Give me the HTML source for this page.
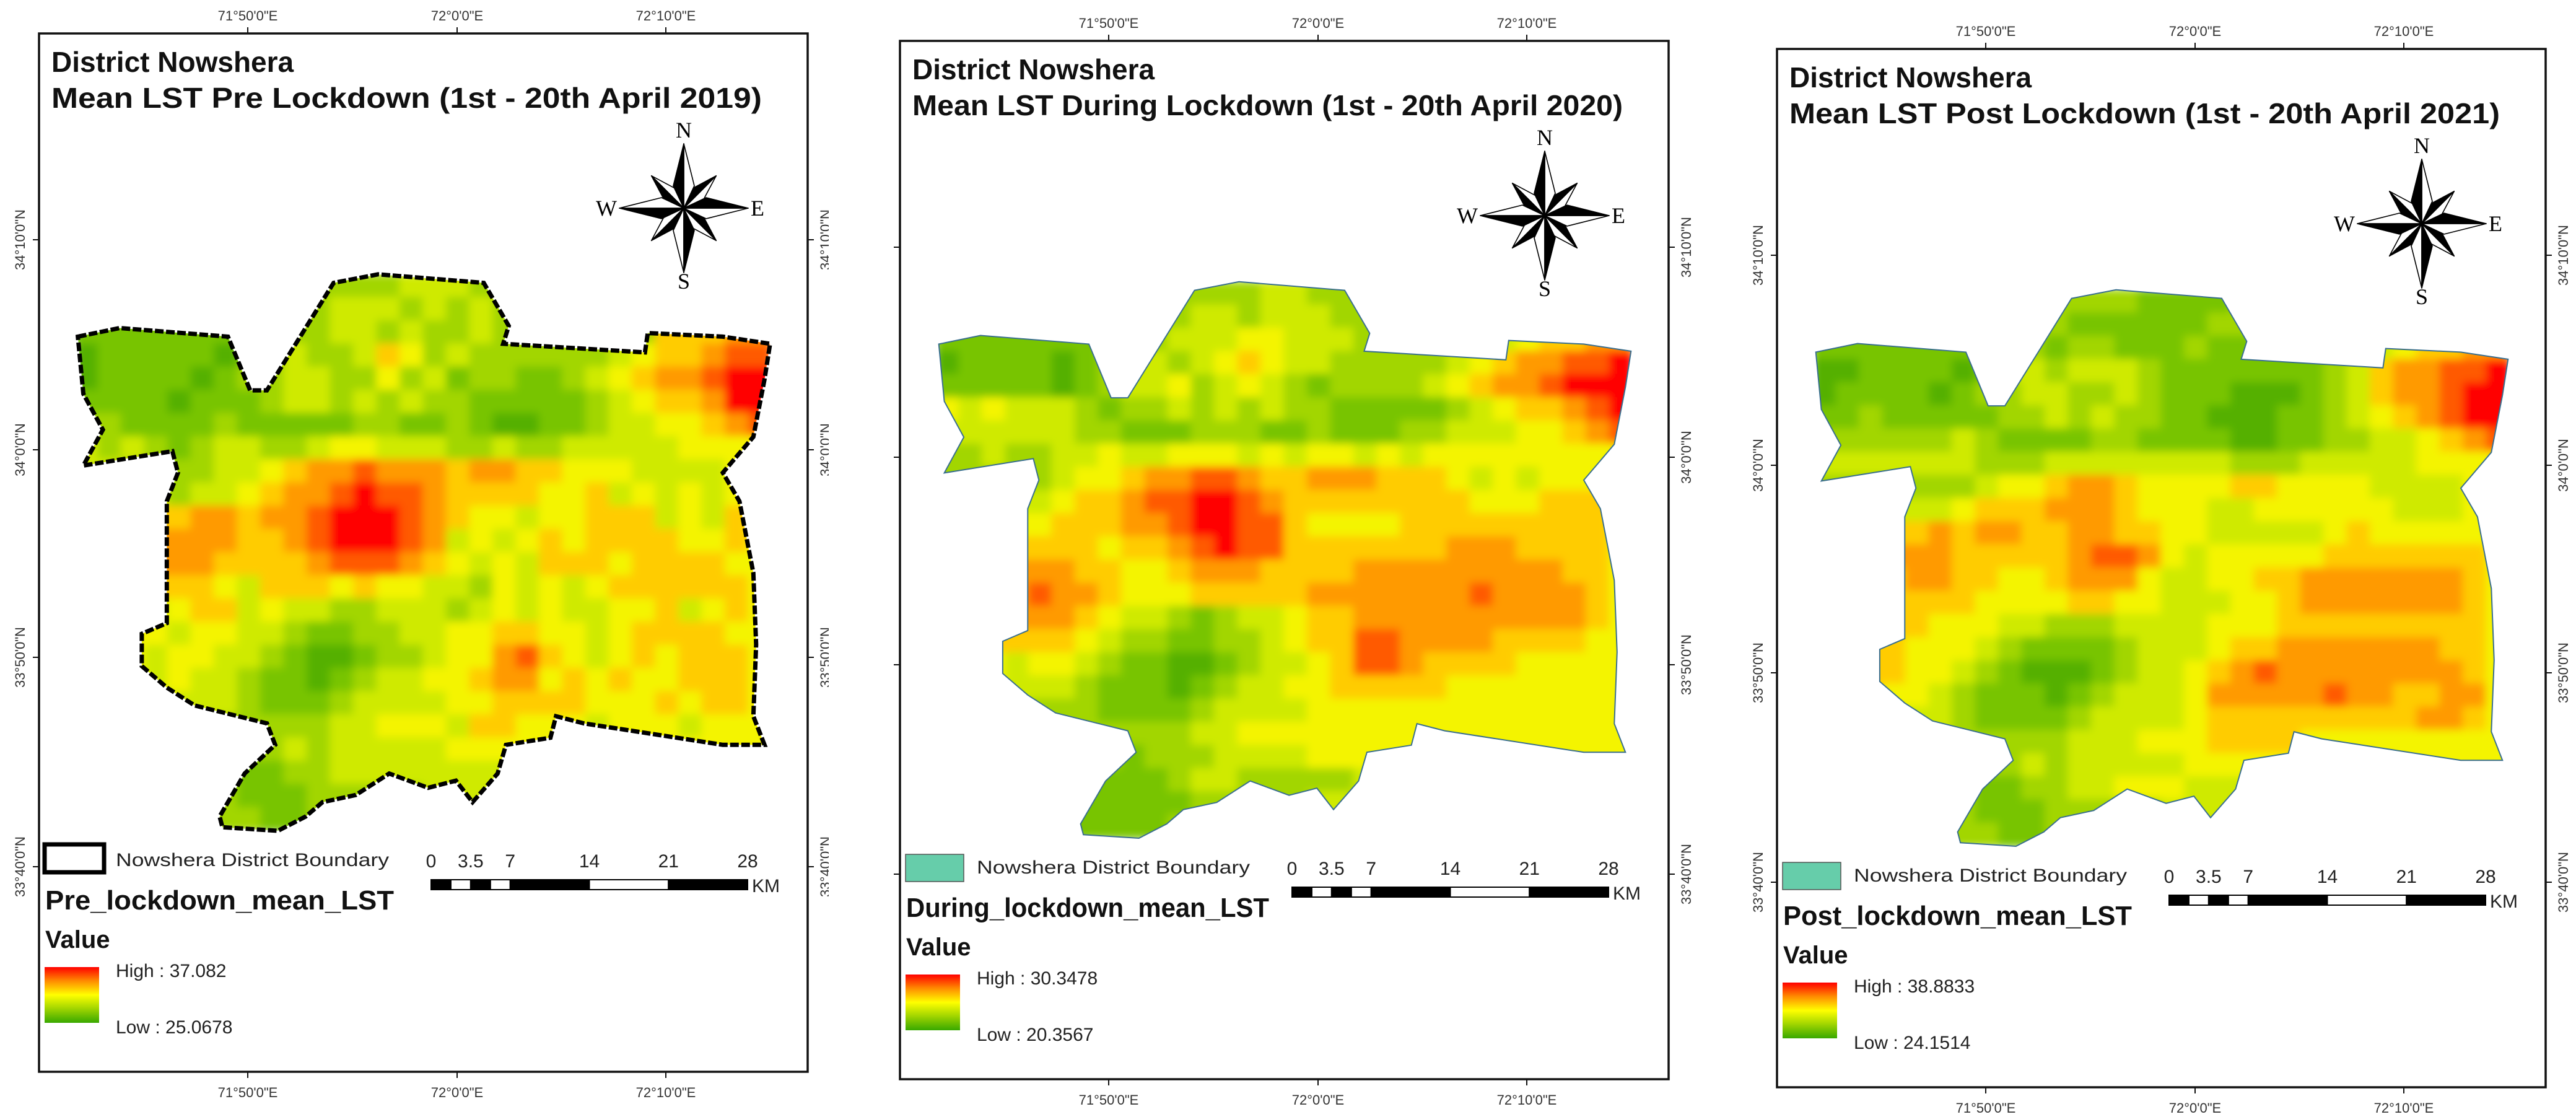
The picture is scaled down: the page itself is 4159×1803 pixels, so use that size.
<!DOCTYPE html>
<html><head><meta charset="utf-8"><style>
html,body{margin:0;padding:0;background:#fff}
svg{display:block}
text{font-family:"Liberation Sans",Arial,sans-serif}
text.serif{font-family:"Liberation Serif","Times New Roman",serif}
</style></head><body>
<svg id="root" xmlns="http://www.w3.org/2000/svg" width="4159" height="1803" viewBox="0 0 4159 1803">
<defs>
<linearGradient id="ramp" x1="0" y1="0" x2="0" y2="1">
<stop offset="0" stop-color="#ff0000"/><stop offset="0.25" stop-color="#ff8c00"/><stop offset="0.5" stop-color="#ffff00"/><stop offset="0.75" stop-color="#9fd400"/><stop offset="1" stop-color="#38a800"/>
</linearGradient>
<filter id="soft" x="-5%" y="-5%" width="110%" height="110%"><feGaussianBlur stdDeviation="7"/></filter>
<clipPath id="clipR1"><rect x="0" y="0" width="1338" height="1803"/></clipPath>
<clipPath id="clipL2"><rect x="1418" y="0" width="100" height="1803"/></clipPath>
</defs>
</svg>
<script>
// ---- data ----
const titlesLine2 = ["Mean LST Pre Lockdown (1st - 20th April 2019)","Mean LST During Lockdown (1st - 20th April 2020)","Mean LST Post Lockdown (1st - 20th April 2021)"];
const layerNames = ["Pre_lockdown_mean_LST","During_lockdown_mean_LST","Post_lockdown_mean_LST"];
const highValues = ["37.082","30.3478","38.8833"];
const lowValues = ["25.0678","20.3567","24.1514"];
const lonTicks = ["71°50'0\"E","72°0'0\"E","72°10'0\"E"];
const latTicks = ["34°10'0\"N","34°0'0\"N","33°50'0\"N","33°40'0\"N"];
const scaleTicks = [0,3.5,7,14,21,28];
const rows1 = [
"333333333333334443333333333333","333333333334443434333333333333","222222223334434334333333366677","122222123433465343333334566788",
"122221233443353423322345677899","222212223443434332222234566799","332222322222332232112234455678","434323443345544433433444445555",
"443333445677877767766555444455","444434456778988766665564545455","556667767789998765545566645465","556777766789998745456566665565",
"556777666678887654546665666655","556666546665655443545456666665","555456645443344434545445564565","455545544322334455665545666655",
"545455443211233455786545656665","455454432212344556775656556665","444444432223444455666655565665","434444333334455546655545554555",
"333333333434444455555555555555","333333322334444444444444444444","333333322233333444444444444444","333333332233333333333333333333"];
const rows2 = [
"333333333333334433333333333333","333333333334434443333333333333","222222223344455444333333456677","122221234434565443333345677889",
"222221234453454323333456778999","545444323343434332222234566789","444444332223332232223344455678","334334454455545455454555555555",
"333334556778876677766654545555","444445667889987666666665556665","545556667789988655556666666665","666666656678988666666677766665",
"667777665567776666777777777665","667787765556666677777778777765","666777654432344566777777777765","566666543322334566887777666655",
"555455432211234456887666655555","455444322212344556666655555555","444433322223444455555555555555","333333333334455555555555555555",
"333333332333444455555555555555","333333222234433333444444444444","333332222223333344444444444444","333332222233333333333333333333"];
const rows3 = [
"333333333333332222333333333333","333333333332222223333333333333","222222222323322232222222456677","112222124434443222222234677889",
"122221233443343222111234677899","223222223343433221112234567899","333333432222332222112233445678","444444433344444444333444445555",
"333333345567765555665555444455","444444566677765554455555544455","556667677667766554444456555555","667777666667887545555566666665",
"666677665567775445566777777765","566666655556655444556777777765","666665554433344445556666666665","666655543222234445667777777665",
"776655432111234456787777777765","666554322212344457777787766775","555444322223444456666666667765","444444333334445556666555555555",
"333333333434444455555555555555","333333322334455544444444444444","333333322233333444444444444444","333333332233333333333333333333"];
const allRows = [rows1, rows2, rows3];

// ---- layout ----
const NS = "http://www.w3.org/2000/svg";
const root = document.getElementById('root');
function el(tag, attrs, parent, txt){const e=document.createElementNS(NS,tag);for(const k in attrs)e.setAttribute(k,attrs[k]);if(txt!==undefined)e.textContent=txt;(parent||root).appendChild(e);return e;}
const offsets = [[0,0],[1390,12],[2806,25]];
const palette = ["#3aa200","#55b000","#78c400","#a2d600","#cfea00","#f4f400","#ffcc00","#ff9a00","#ff5a00","#ff0000"];
const mapX0=121, mapX1=1246, mapY0=443, mapY1=1341;
const xScale = v => mapX0 + v*(mapX1-mapX0);
const yScale = v => mapY0 + v*(mapY1-mapY0);
const outlineZ = [[140,470],[215,458],[410,470],[450,545],[480,545],[600,395],[680,383],[870,395],[915,455],[905,480],[1160,492],[1165,465],[1300,470],[1385,480],[1375,530],[1355,610],[1300,660],[1330,700],[1355,800],[1360,900],[1355,1000],[1375,1040],[1300,1040],[1050,1010],[1000,1000],[990,1030],[910,1040],[895,1080],[850,1120],[820,1090],[770,1100],[700,1080],[640,1110],[580,1120],[550,1140],[500,1160],[400,1155],[395,1140],[440,1080],[495,1040],[480,1010],[350,985],[300,960],[255,930],[255,885],[300,870],[300,700],[320,660],[310,630],[150,650],[185,600],[150,550]];
const outlinePts = outlineZ.map(p=>(p[0]/1.114).toFixed(1)+','+(p[1]/0.865).toFixed(1)).join(' ');

for(let p=0;p<3;p++){
  const [dx,dy]=offsets[p];
  const g = el('g',{transform:`translate(${dx},${dy})`});
  
  
  const cp = el('clipPath',{id:'shape'+p},g);
  el('polygon',{points:outlinePts},cp);
  const fr = el('rect',{x:63,y:54,width:1241,height:1676,fill:'none',stroke:'#111','stroke-width':3.5},g);
  
  
  const hm = el('g',{'clip-path':`url(#shape${p})`},g);
  
  
  const inner = el('g',{filter:'url(#soft)'},hm);
  const rows = allRows[p];
  const nr = rows.length, nc = rows[0].length;
  for(let i=0;i<nr;i++){for(let j=0;j<nc;j++){
    const v = parseInt(rows[i][j],10);
    const c = el('rect',{x:xScale(j/nc)-1,y:yScale(i/nr)-1,width:(mapX1-mapX0)/nc+2,height:(mapY1-mapY0)/nr+2,fill:palette[v]},inner);
    
    
  }}
  const ol = el('polygon',{points:outlinePts,fill:'none',stroke:p===0?'#000':'#3a6f8f','stroke-width':p===0?7:2,'stroke-dasharray':p===0?'14 4':'none'},g);
  
  
  const t1 = el('text',{x:83,y:116,'font-size':46,'font-weight':'bold',fill:'#111'},g,'District Nowshera');
  
  
  const t2 = el('text',{x:83,y:174,'font-size':46,'font-weight':'bold',fill:'#111',textLength:1147,lengthAdjust:'spacingAndGlyphs'},g,titlesLine2[p]);
  
  
  const lonX=[400,738,1075];
  lonX.forEach((x,k)=>{
    el('line',{x1:x,y1:54,x2:x,y2:44,stroke:'#111','stroke-width':2},g);
    el('line',{x1:x,y1:1730,x2:x,y2:1740,stroke:'#111','stroke-width':2},g);
    const a=el('text',{x:x,y:33,'font-size':22,'text-anchor':'middle',fill:'#333'},g,lonTicks[k]);
    
    
    const b=el('text',{x:x,y:1771,'font-size':22,'text-anchor':'middle',fill:'#333'},g,lonTicks[k]);
    
    
  });
  const latY=[387,726,1061,1399];
  const leftG = el('g',p===1?{'clip-path':'url(#clipL2)'}:{},root);
  leftG.setAttribute('transform',`translate(${dx},${dy})`);
  const rightG = el('g',p===0?{'clip-path':'url(#clipR1)'}:{},root);
  rightG.setAttribute('transform',`translate(${dx},${dy})`);
  latY.forEach((y,k)=>{
    el('line',{x1:63,y1:y,x2:53,y2:y,stroke:'#111','stroke-width':2},g);
    el('line',{x1:1304,y1:y,x2:1314,y2:y,stroke:'#111','stroke-width':2},g);
    const a=el('text',{x:0,y:0,'font-size':22,'text-anchor':'middle',fill:'#333',transform:`translate(${p===1?34:40},${y}) rotate(-90)`},leftG,latTicks[k]);
    
    
    const b=el('text',{x:0,y:0,'font-size':22,'text-anchor':'middle',fill:'#333',transform:`translate(1340,${y}) rotate(-90)`},rightG,latTicks[k]);
    
    
  });
  // compass
  const cg = el('g',{transform:'translate(1104,336)'},g);
  
  
  function arm(ang,L,d,w){
    const r=ang*Math.PI/180, ux=Math.sin(r), uy=-Math.cos(r), px=-uy, py=ux;
    const tip=`${(ux*L).toFixed(1)},${(uy*L).toFixed(1)}`;
    const s1=`${(ux*d+px*w).toFixed(1)},${(uy*d+py*w).toFixed(1)}`;
    const s2=`${(ux*d-px*w).toFixed(1)},${(uy*d-py*w).toFixed(1)}`;
    el('polygon',{points:`0,0 ${s1} ${tip}`,fill:'#fff',stroke:'#000','stroke-width':1.6,'stroke-linejoin':'round'},cg);
    el('polygon',{points:`0,0 ${s2} ${tip}`,fill:'#000',stroke:'#000','stroke-width':1.6,'stroke-linejoin':'round'},cg);
  }
  [45,135,225,315].forEach(a=>arm(a,74,28,14));
  [0,90,180,270].forEach(a=>arm(a,104,36,17));
  el('text',{x:0,y:-114,'font-size':36,'text-anchor':'middle',class:'serif'},cg,'N');
  el('text',{x:0,y:130,'font-size':36,'text-anchor':'middle',class:'serif'},cg,'S');
  el('text',{x:-108,y:12,'font-size':36,'text-anchor':'end',class:'serif'},cg,'W');
  el('text',{x:108,y:12,'font-size':36,'text-anchor':'start',class:'serif'},cg,'E');
  const lb = el('rect',p===0?{x:72,y:1363,width:96,height:45,fill:'#fff',stroke:'#000','stroke-width':7}:{x:72,y:1367,width:94,height:44,fill:'#66cdaa',stroke:'#555','stroke-width':1.5},g);
  
  
  const lt = el('text',{x:187,y:1398,'font-size':30,fill:'#222',textLength:441,lengthAdjust:'spacingAndGlyphs'},g,'Nowshera District Boundary');
  
  
  const sbX0=696, sbX1=1207, kmPx=(sbX1-sbX0)/28;
  const segs=[[0,1.75,'#000'],[1.75,3.5,'#fff'],[3.5,5.25,'#000'],[5.25,7,'#fff'],[7,14,'#000'],[14,21,'#fff'],[21,28,'#000']];
  const sg = el('g',{},g);
  
  
  segs.forEach(s=>el('rect',{x:sbX0+s[0]*kmPx,y:1420,width:(s[1]-s[0])*kmPx,height:16,fill:s[2],stroke:'#000','stroke-width':2},sg));
  scaleTicks.forEach(v=>el('text',{x:sbX0+v*kmPx,y:1400,'font-size':30,'text-anchor':'middle',fill:'#222'},sg,String(v)));
  el('text',{x:1214,y:1440,'font-size':30,fill:'#222'},sg,'KM');
  const ln = el('text',{x:73,y:1468,'font-size':44,'font-weight':'bold',fill:'#111',textLength:p===1?586:563,lengthAdjust:'spacingAndGlyphs'},g,layerNames[p]);
  
  
  const vl = el('text',{x:73,y:1530,'font-size':40,'font-weight':'bold',fill:'#111'},g,'Value');
  
  
  const rb = el('rect',{x:72,y:1561,width:88,height:90,fill:'url(#ramp)'},g);
  
  
  const hi = el('text',{x:187,y:1577,'font-size':30,fill:'#222'},g,'High : '+highValues[p]);
  
  
  const lo = el('text',{x:187,y:1668,'font-size':30,fill:'#222'},g,'Low : '+lowValues[p]);
  
  
}
</script>
</body></html>
